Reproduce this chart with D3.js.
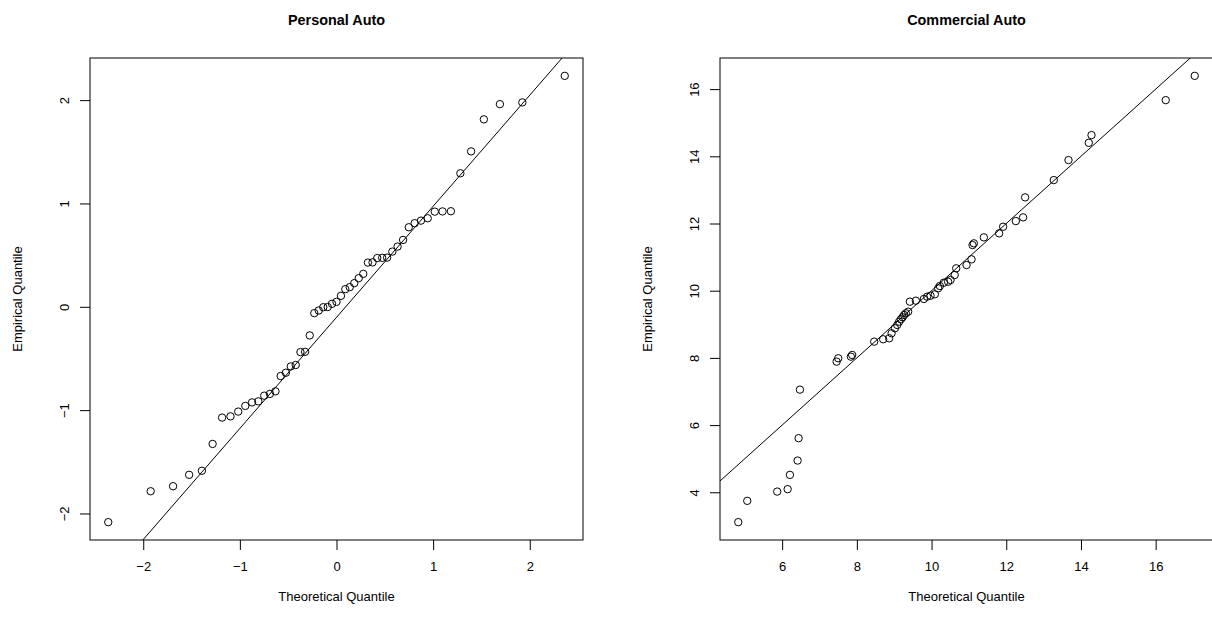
<!DOCTYPE html>
<html>
<head>
<meta charset="utf-8">
<script src="https://cdn.jsdelivr.net/npm/d3@7"></script>
<style>
  body { margin: 0; background: #fff; }
  svg { display: block; font-family: "Liberation Sans", Arial, sans-serif; }
</style>
</head>
<body>
<svg id="chart" width="1212" height="623"></svg>
<script>

// Personal Auto: theoretical vs empirical quantiles
var personalTheo = [-2.362, -1.923, -1.691, -1.525, -1.393, -1.282, -1.184, -1.097, -1.017, -0.944,
  -0.874, -0.809, -0.748, -0.689, -0.632, -0.578, -0.524, -0.473, -0.422, -0.373,
  -0.325, -0.277, -0.230, -0.184, -0.137, -0.091, -0.046, 0, 0.046, 0.091,
  0.137, 0.184, 0.230, 0.277, 0.325, 0.373, 0.422, 0.473, 0.524, 0.578,
  0.632, 0.689, 0.748, 0.809, 0.874, 0.944, 1.017, 1.097, 1.184, 1.282,
  1.393, 1.525, 1.691, 1.923, 2.362]
var personalEmp = [-2.084, -1.785, -1.736, -1.626, -1.587, -1.327, -1.072, -1.060, -1.014, -0.959,
  -0.925, -0.915, -0.860, -0.843, -0.818, -0.670, -0.638, -0.577, -0.563, -0.438,
  -0.436, -0.277, -0.061, -0.036, -0.004, -0.002, 0.029, 0.048, 0.106, 0.171,
  0.190, 0.229, 0.277, 0.319, 0.428, 0.430, 0.472, 0.474, 0.476, 0.534,
  0.583, 0.647, 0.770, 0.809, 0.834, 0.857, 0.921, 0.923, 0.925, 1.292,
  1.504, 1.814, 1.961, 1.978, 2.235]
var personalLine = { intercept: -0.102, slope: 1.075 }

// Commercial Auto
var commercialTheo = [4.825, 5.066, 5.868, 6.147, 6.208, 6.414, 6.441, 6.476, 7.458, 7.501,
  7.840, 7.875, 8.464, 8.705, 8.865, 8.930, 9.018, 9.080, 9.133, 9.179,
  9.224, 9.267, 9.312, 9.374, 9.419, 9.580, 9.794, 9.882, 9.973, 10.088,
  10.177, 10.222, 10.329, 10.444, 10.508, 10.620, 10.660, 10.937, 11.070, 11.097,
  11.132, 11.400, 11.809, 11.916, 12.256, 12.451, 12.505, 13.273, 13.666, 14.209,
  14.282, 16.270, 17.046]
var commercialEmp = [3.111, 3.745, 4.021, 4.093, 4.518, 4.944, 5.610, 7.055, 7.888, 7.989,
  8.037, 8.087, 8.483, 8.554, 8.584, 8.733, 8.882, 8.980, 9.078, 9.149,
  9.209, 9.277, 9.328, 9.375, 9.673, 9.703, 9.753, 9.822, 9.851, 9.893,
  10.071, 10.140, 10.238, 10.268, 10.318, 10.467, 10.666, 10.764, 10.934, 11.359,
  11.410, 11.588, 11.707, 11.904, 12.073, 12.183, 12.778, 13.293, 13.888, 14.402,
  14.631, 15.672, 16.395]
var commercialLine = { intercept: 0, slope: 1 }

var personalXTicks = [-2, -1, 0, 1, 2]
var personalYTicks = [-2, -1, 0, 1, 2]
var commercialXTicks = [6, 8, 10, 12, 14, 16]
var commercialYTicks = [4, 6, 8, 10, 12, 14, 16]

var plotW = 493, plotH = 482, marginTop = 58, marginLeft = 90

var svg = d3.select('#chart')

// R style range: data extent plus 4% each side
function pad(ext) {
  var r = ext[1] - ext[0]
  return [ext[0] - r * 0.04, ext[1] + r * 0.04]
}

function drawPanel(ox, title, xs, ys, line, xTicks, yTicks, id) {
  var x = d3.scaleLinear().domain(pad(d3.extent(xs))).range([0, plotW])
  var y = d3.scaleLinear().domain(pad(d3.extent(ys))).range([plotH, 0])

  var g = svg.append('g')
    .attr('transform', 'translate(' + (ox + marginLeft) + ',' + marginTop + ')')

  g.append('clipPath').attr('id', id)
    .append('rect').attr('width', plotW).attr('height', plotH)

  var xa = g.append('g')
    .attr('transform', 'translate(0,' + plotH + ')')
    .call(d3.axisBottom(x).tickValues(xTicks).tickSize(10).tickFormat(d3.format('d')))
  xa.select('.domain').remove()
  xa.selectAll('text').attr('y', 31).attr('dy', 0).style('font-size', '13px')

  var ya = g.append('g')
    .call(d3.axisLeft(y).tickValues(yTicks).tickSize(10).tickFormat(d3.format('d')))
  ya.select('.domain').remove()
  ya.selectAll('text')
    .attr('transform', 'rotate(-90)')
    .attr('x', 0).attr('y', -21).attr('dy', 0)
    .attr('text-anchor', 'middle')
    .style('font-size', '13px')
  g.selectAll('.tick line').attr('stroke', '#000')
  g.selectAll('.tick text').attr('fill', '#000').attr('font-family', null)

  // the reference line, clipped to the plot region
  var xd = x.domain()
  g.append('line')
    .attr('clip-path', 'url(#' + id + ')')
    .attr('x1', x(xd[0])).attr('y1', y(line.intercept + line.slope * xd[0]))
    .attr('x2', x(xd[1])).attr('y2', y(line.intercept + line.slope * xd[1]))
    .attr('stroke', '#000').attr('stroke-width', 1)

  g.selectAll('circle.pt')
    .data(xs)
    .enter()
    .append('circle')
    .attr('class', 'pt')
    .attr('cx', function(d) { return x(d) })
    .attr('cy', function(d, i) { return y(ys[i]) })
    .attr('r', 3.7)
    .attr('fill', 'none')
    .attr('stroke', '#000')
    .attr('stroke-width', 1)

  g.append('rect')
    .attr('x', 0).attr('y', 0).attr('width', plotW).attr('height', plotH)
    .attr('fill', 'none').attr('stroke', '#000').attr('stroke-width', 1)

  svg.append('text')
    .attr('x', ox + marginLeft + plotW / 2).attr('y', 25)
    .attr('text-anchor', 'middle')
    .style('font-size', '14.4px').style('font-weight', 'bold')
    .text(title)

  svg.append('text')
    .attr('x', ox + marginLeft + plotW / 2).attr('y', 601)
    .attr('text-anchor', 'middle')
    .style('font-size', '13px')
    .text('Theoretical Quantile')

  svg.append('text')
    .attr('transform', 'translate(' + (ox + 22) + ',' + (marginTop + plotH / 2) + ') rotate(-90)')
    .attr('text-anchor', 'middle')
    .style('font-size', '13px')
    .text('Empirical Quantile')
}

drawPanel(0, 'Personal Auto', personalTheo, personalEmp, personalLine,
  personalXTicks, personalYTicks, 'clipA')
drawPanel(630, 'Commercial Auto', commercialTheo, commercialEmp, commercialLine,
  commercialXTicks, commercialYTicks, 'clipB')
</script>
</body>
</html>
